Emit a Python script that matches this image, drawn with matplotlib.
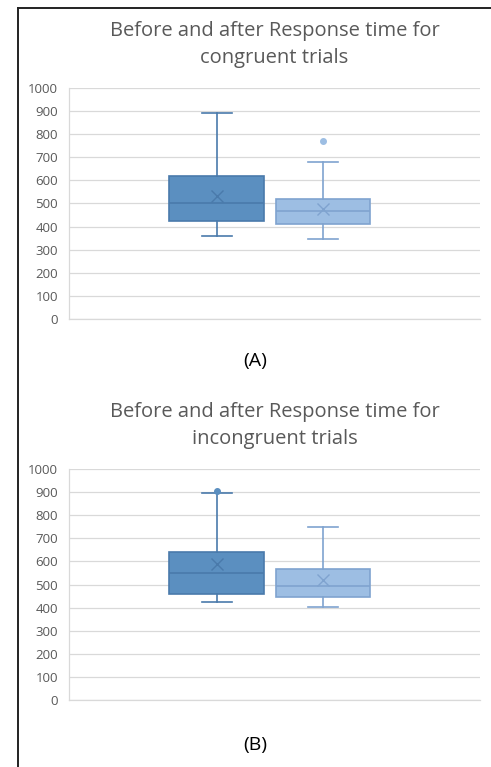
import numpy as np
import matplotlib.pyplot as plt
from matplotlib.lines import Line2D

# box statistics (ms)
groups = ["Before", "After"]
congruent_whislo = [358, 348]
congruent_q1 = [423, 412]
congruent_med = [500, 467]
congruent_q3 = [620, 520]
congruent_whishi = [890, 678]
congruent_mean = [532, 477]
congruent_fliers = [[], [770]]

incongruent_whislo = [425, 402]
incongruent_q1 = [461, 445]
incongruent_med = [549, 494]
incongruent_q3 = [640, 568]
incongruent_whishi = [895, 749]
incongruent_mean = [587, 520]
incongruent_fliers = [[906], []]

titles = ["Before and after Response time for\ncongruent trials",
          "Before and after Response time for\nincongruent trials"]
panel_labels = ["(A)", "(B)"]

fills = ["#5b8fc0", "#9dbee3"]
edges = ["#4a7aab", "#7fa3cf"]
text_gray = "#595959"
W, H = 491, 767

plt.rcParams['font.family'] = ['Open Sans', 'DejaVu Sans']


def make_stats(whislo, q1, med, q3, whishi, mean, fliers):
    out = []
    for i, g in enumerate(groups):
        out.append(dict(label=g, whislo=whislo[i], q1=q1[i], med=med[i], q3=q3[i],
                        whishi=whishi[i], mean=mean[i], fliers=fliers[i]))
    return out


def draw_panel(ax, stats, title):
    positions = [0.36, 0.618]
    for i, s in enumerate(stats):
        ax.bxp([s], positions=[positions[i]], widths=0.231, patch_artist=True,
               showmeans=True, showfliers=True,
               boxprops=dict(facecolor=fills[i], edgecolor=edges[i], linewidth=1.2),
               medianprops=dict(color=edges[i], linewidth=1.2),
               whiskerprops=dict(color=edges[i], linewidth=1.2),
               capprops=dict(color=edges[i], linewidth=1.2),
               capwidths=0.073,
               meanprops=dict(marker="x", markeredgecolor=edges[i], markersize=8, markeredgewidth=1.0),
               flierprops=dict(marker="o", markerfacecolor=fills[i], markeredgecolor=fills[i], markersize=4))
    ax.set_xlim(0, 1)
    ax.set_ylim(0, 1000)
    ax.set_yticks(np.arange(0, 1001, 100))
    ax.set_xticks([])
    ax.yaxis.grid(True, color="#d9d9d9", linewidth=0.9)
    ax.set_axisbelow(True)
    for sp in ["top", "right"]:
        ax.spines[sp].set_visible(False)
    for sp in ["left", "bottom"]:
        ax.spines[sp].set_color("#d9d9d9")
        ax.spines[sp].set_linewidth(0.9)
    ax.tick_params(axis="y", length=0, labelsize=9.5, labelcolor=text_gray, pad=8)
    ax.set_title(title, fontsize=14.5, color=text_gray, pad=18, linespacing=1.45)


fig = plt.figure(figsize=(W / 100, H / 100), dpi=100)
ax_a = fig.add_axes([69 / W, 1 - 319 / H, 411 / W, 231 / H])
ax_b = fig.add_axes([69 / W, 1 - 700 / H, 411 / W, 231 / H])

draw_panel(ax_a, make_stats(congruent_whislo, congruent_q1, congruent_med, congruent_q3,
                            congruent_whishi, congruent_mean, congruent_fliers), titles[0])
draw_panel(ax_b, make_stats(incongruent_whislo, incongruent_q1, incongruent_med, incongruent_q3,
                            incongruent_whishi, incongruent_mean, incongruent_fliers), titles[1])

fig.text(255 / W, 1 - 361 / H, panel_labels[0], ha="center", va="center", fontsize=14, color="black")
fig.text(255 / W, 1 - 745 / H, panel_labels[1], ha="center", va="center", fontsize=14, color="black")

# frame lines at top and left
fig.add_artist(Line2D([18 / W, 18 / W], [0, 1 - 8 / H], color="#222222", linewidth=1.4))
fig.add_artist(Line2D([18 / W, 1], [1 - 8 / H, 1 - 8 / H], color="#222222", linewidth=1.4))

fig.savefig("out.png", dpi=100)
